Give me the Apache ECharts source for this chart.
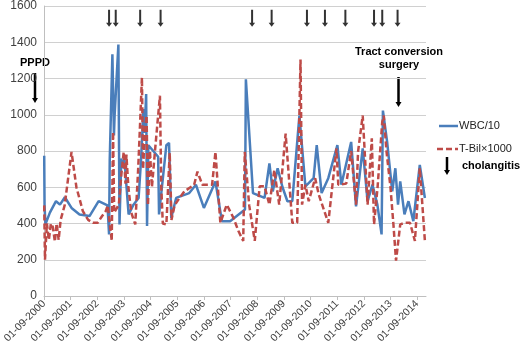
<!DOCTYPE html>
<html><head><meta charset="utf-8">
<script src="https://cdn.jsdelivr.net/npm/echarts@6/dist/echarts.min.js"></script>
<style>html,body{margin:0;padding:0;background:#fff}#c{width:520px;height:346px}</style>
</head><body><div id="c"></div>
<script>
// x positions: months since 01-09-2000
const yearLabels = ['2000','2001','2002','2003','2004','2005','2006','2007','2008','2009','2010','2011','2012','2013','2014'];
const wbcMonth = [0.1,0.25,0.65,2.65,5.4,7.2,9.4,12.4,16.0,20.5,24.6,28.6,29.3,29.6,30.8,31.5,31.8,33.5,34.0,34.8,35.5,36.2,38.1,40.3,42.6,43.7,44.8,45.3,46.0,46.4,47.0,51.4,51.8,55.1,56.3,57.3,59.5,65.4,68.4,72.0,77.2,80.1,83.8,90.5,90.9,94.1,99.3,101.5,103.0,105.2,107.4,109.6,111.8,115.0,117.7,121.4,122.8,125.0,128.0,132.1,133.9,138.3,140.5,143.5,145.7,147.9,150.1,152.0,152.6,154.5,156.8,158.2,159.4,160.4,162.3,164.1,166.3,169.2,171.5];
const wbc = [774,500,395,460,523,504,545,486,450,441,523,500,340,750,1333,886,996,1387,395,759,705,759,450,504,541,750,1032,900,1114,386,832,768,450,832,845,431,541,568,614,486,632,413,413,477,1196,568,541,732,577,705,600,523,523,996,605,650,832,568,650,832,614,850,495,814,523,614,504,340,1023,850,577,705,504,632,450,523,413,723,541];
const tbilMonth = [0.1,0.45,1.3,2.2,3.1,4.0,4.9,5.7,6.6,7.5,9.3,12.4,14.6,17.5,19.9,22.0,24.2,26.1,27.8,28.7,30.5,31.1,31.6,32.2,33.7,34.9,35.9,36.7,37.1,38.0,39.3,41.1,42.4,43.1,44.1,44.6,45.5,46.2,46.8,47.7,48.6,49.9,50.8,52.2,52.8,53.5,55.1,56.6,57.4,58.8,61.0,63.2,67.6,69.1,71.3,75.7,77.2,79.4,82.3,85.3,87.5,89.7,90.4,92.4,94.9,97.1,99.3,101.5,103.7,105.9,108.8,111.8,114.0,115.5,116.2,117.7,119.2,122.1,123.7,128.0,131.7,132.5,136.1,138.3,140.5,141.4,143.5,145.7,147.6,148.6,150.2,152.3,153.0,154.2,156.0,157.3,158.5,160.4,162.6,164.8,167.0,169.2,171.5];
const tbil = [500,200,400,310,400,380,300,400,310,420,500,795,600,468,420,404,404,440,468,500,304,905,460,450,504,680,795,620,780,600,460,395,700,900,1205,700,923,996,500,800,600,790,780,1105,600,400,395,790,420,500,541,577,614,686,614,614,795,404,504,431,360,304,795,500,304,605,605,504,695,504,896,404,404,1305,504,614,523,650,560,404,814,614,620,800,504,795,996,504,870,395,600,960,996,800,600,400,195,395,404,404,304,705,304];
const cholangitisMonth = [29.3,32.3,43.3,52.5,93.7,102.5,118.4,126.5,135.7,148.6,152.3,159.2];
const arrowLevel = 1532;

const FONT = '"Liberation Sans", Arial, sans-serif';
const arrowPath = 'path://M2,0 L4,0 L4,13 L6,13 L3,17 L0,13 L2,13 Z';
const BLUE = '#4a7ebb', RED = '#be4b48';

function zip(a, b) { return a.map((v, i) => [v, b[i]]); }

const chart = echarts.init(document.getElementById('c'), null, {renderer: 'canvas'});
chart.setOption({
  animation: false,
  textStyle: {fontFamily: FONT},
  grid: {left: 37, right: 94, top: 6, bottom: 47},
  xAxis: {
    type: 'value', min: 0, max: 172, interval: 12,
    axisLine: {show: true, lineStyle: {color: '#bfbfbf', width: 1}},
    axisTick: {show: true, length: 4, lineStyle: {color: '#bfbfbf'}},
    splitLine: {show: false},
    axisLabel: {
      rotate: 45, fontSize: 10.5, color: '#404040', margin: 6, fontFamily: FONT,
      showMaxLabel: false,
      formatter: v => (v % 12 === 0 && yearLabels[v / 12]) ? '01-09-' + yearLabels[v / 12] : ''
    }
  },
  yAxis: {
    type: 'value', min: 0, max: 1600, interval: 200,
    axisLine: {show: true, lineStyle: {color: '#bfbfbf'}},
    axisTick: {show: false},
    splitLine: {lineStyle: {color: '#d0d0d0', width: 1}},
    axisLabel: {fontSize: 12, color: '#404040', margin: 7, fontFamily: FONT, formatter: v => String(v)}
  },
  series: [
    {name: 'WBC/10', type: 'line', data: zip(wbcMonth, wbc), symbol: 'none',
     lineStyle: {color: BLUE, width: 2.5}, itemStyle: {color: BLUE}, z: 2},
    {name: 'T-Bil×1000', type: 'line', data: zip(tbilMonth, tbil), symbol: 'none',
     lineStyle: {color: RED, width: 2.5, type: [6, 3]}, itemStyle: {color: RED}, z: 3},
    {name: 'cholangitis', type: 'scatter', data: cholangitisMonth.map(m => [m, arrowLevel]),
     symbol: arrowPath, symbolSize: [6, 17], itemStyle: {color: '#000'}, z: 4}
  ],
  graphic: [
    {type: 'text', left: 20, top: 57, style: {text: 'PPPD', font: 'bold 11px ' + FONT, fill: '#000'}},
    {type: 'line', shape: {x1: 35, y1: 73, x2: 35, y2: 99}, style: {stroke: '#000', lineWidth: 2.5}},
    {type: 'polygon', shape: {points: [[32, 98], [38, 98], [35, 103]]}, style: {fill: '#000'}},
    {type: 'text', x: 399, y: 52, style: {text: 'Tract conversion', font: 'bold 11px ' + FONT, fill: '#000', align: 'center', verticalAlign: 'middle'}},
    {type: 'text', x: 399, y: 65, style: {text: 'surgery', font: 'bold 11px ' + FONT, fill: '#000', align: 'center', verticalAlign: 'middle'}},
    {type: 'line', shape: {x1: 398.5, y1: 77, x2: 398.5, y2: 103}, style: {stroke: '#000', lineWidth: 2.5}},
    {type: 'polygon', shape: {points: [[395.5, 102], [401.5, 102], [398.5, 107]]}, style: {fill: '#000'}},
    // legend
    {type: 'line', shape: {x1: 439, y1: 126, x2: 458, y2: 126}, style: {stroke: BLUE, lineWidth: 2.5}},
    {type: 'text', x: 459, y: 126, style: {text: 'WBC/10', font: '11px ' + FONT, fill: '#222', align: 'left', verticalAlign: 'middle'}},
    {type: 'line', shape: {x1: 437, y1: 149, x2: 458, y2: 149}, style: {stroke: RED, lineWidth: 2.5, lineDash: [6, 3]}},
    {type: 'text', x: 459, y: 149, style: {text: 'T-Bil×1000', font: '11px ' + FONT, fill: '#222', align: 'left', verticalAlign: 'middle'}},
    {type: 'line', shape: {x1: 447, y1: 157, x2: 447, y2: 171}, style: {stroke: '#000', lineWidth: 2.5}},
    {type: 'polygon', shape: {points: [[444, 170], [450, 170], [447, 175]]}, style: {fill: '#000'}},
    {type: 'text', x: 462, y: 166, style: {text: 'cholangitis', font: 'bold 11px ' + FONT, fill: '#000', align: 'left', verticalAlign: 'middle'}}
  ]
});
</script></body></html>
